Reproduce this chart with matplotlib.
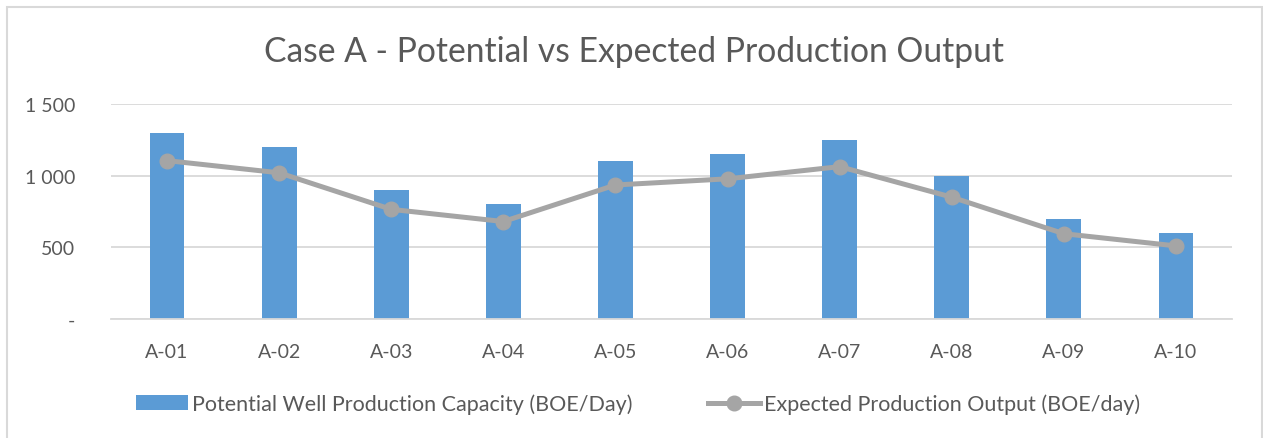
import matplotlib.pyplot as plt
from matplotlib.patches import Rectangle
import numpy as np

wells = ["A-01", "A-02", "A-03", "A-04", "A-05", "A-06", "A-07", "A-08", "A-09", "A-10"]
potential = [1300, 1200, 900, 800, 1100, 1150, 1250, 1000, 700, 600]
expected = [1105, 1020, 765, 680, 935, 978, 1063, 850, 595, 510]

BAR_COLOR = "#5B9BD5"
LINE_COLOR = "#A5A5A5"
TEXT_COLOR = "#595959"
GRID_COLOR = "#D9D9D9"

plt.rcParams["font.family"] = ["Lato", "DejaVu Sans"]

fig = plt.figure(figsize=(12.63, 4.39), dpi=100)
ax = fig.add_axes([111 / 1263, 1 - 320 / 439, 1121 / 1263, 215 / 439])

x = np.arange(len(wells))
bars = ax.bar(x, potential, width=0.31, color=BAR_COLOR, zorder=2,
              label="Potential Well Production Capacity (BOE/Day)")
line, = ax.plot(x, expected, color=LINE_COLOR, linewidth=3.6, marker="o", markersize=10.5,
                zorder=3, label="Expected Production Output (BOE/day)")

ax.set_xlim(-0.5, len(wells) - 0.5)
ax.set_ylim(0, 1500)
ax.set_yticks([0, 500, 1000, 1500])
ax.set_yticklabels(["-", "500", "1 000", "1 500"])
ax.set_xticks(x)
ax.set_xticklabels(wells)
ax.tick_params(axis="both", length=0, labelsize=14, labelcolor=TEXT_COLOR)
ax.tick_params(axis="y", pad=26)
ax.tick_params(axis="x", pad=17)
ax.yaxis.grid(True, color=GRID_COLOR, linewidth=1.3, zorder=0)
ax.set_axisbelow(True)
for side in ["top", "right", "left"]:
    ax.spines[side].set_visible(False)
ax.spines["bottom"].set_color(GRID_COLOR)
ax.spines["bottom"].set_linewidth(1.3)

fig.text(634 / 1263, 1 - 52 / 439, "Case A - Potential vs Expected Production Output",
         ha="center", va="center", fontsize=24.2, color=TEXT_COLOR)

fig.legend(handles=[bars, line], loc="center", bbox_to_anchor=(638 / 1263, 1 - 405 / 439),
           ncol=2, frameon=False, fontsize=15.5, labelcolor=TEXT_COLOR, handlelength=2.4,
           columnspacing=3.5, handletextpad=0.2)

# chart border like the Excel frame
fig.patches.append(Rectangle((6.5 / 1263, -0.1), 1255 / 1263, 1.1 - 7.5 / 439,
                             transform=fig.transFigure, fill=False,
                             edgecolor="#D9D9D9", linewidth=1.5))

fig.savefig("out.png", dpi=100)
